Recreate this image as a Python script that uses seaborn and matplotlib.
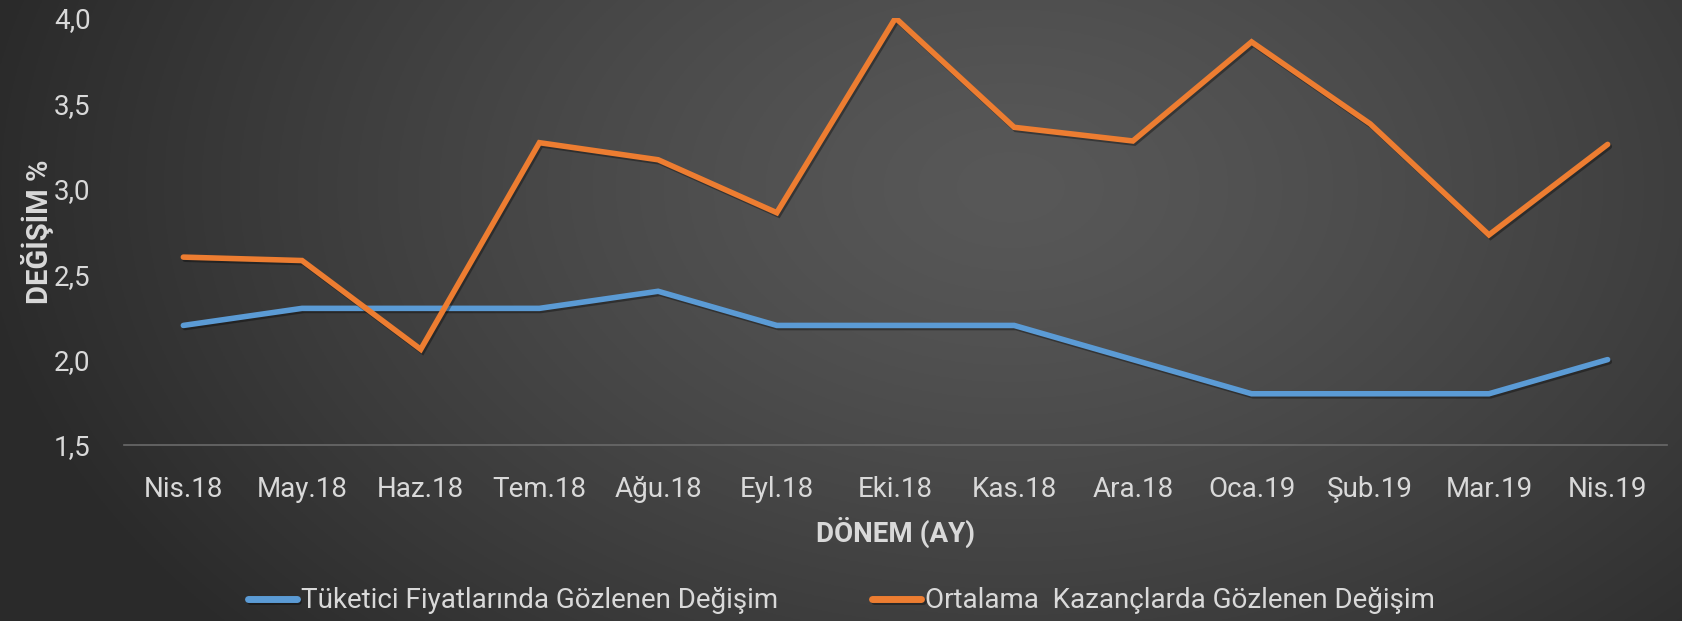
import numpy as np
import pandas as pd
import matplotlib
matplotlib.use("Agg")
import matplotlib.pyplot as plt
import matplotlib.patheffects as pe
import seaborn as sns
from matplotlib import font_manager

months = ["Nis.18", "May.18", "Haz.18", "Tem.18", "Ağu.18", "Eyl.18", "Eki.18",
          "Kas.18", "Ara.18", "Oca.19", "Şub.19", "Mar.19", "Nis.19"]
tufe = [2.2, 2.3, 2.3, 2.3, 2.4, 2.2, 2.2, 2.2, 2.0, 1.8, 1.8, 1.8, 2.0]
kazanc = [2.6, 2.58, 2.06, 3.27, 3.17, 2.86, 4.0, 3.36, 3.28, 3.86, 3.38, 2.73, 3.26]
series_names = ["Tüketici Fiyatlarında Gözlenen Değişim",
                "Ortalama  Kazançlarda Gözlenen Değişim"]
yticks = [1.5, 2.0, 2.5, 3.0, 3.5, 4.0]

sns.set_theme(style="white")
names = {f.name for f in font_manager.fontManager.ttflist}
fam = [f for f in ["Liberation Sans Narrow", "Roboto", "DejaVu Sans"] if f in names]
plt.rcParams["font.family"] = fam + ["DejaVu Sans"]

df = pd.DataFrame({
    "x": list(range(len(months))) * 2,
    "val": tufe + kazanc,
    "seri": [series_names[0]] * len(months) + [series_names[1]] * len(months),
})

fig = plt.figure(figsize=(16.83, 6.21), dpi=100)

# background radial gradient
bg = fig.add_axes([0, 0, 1, 1], zorder=-10)
H, W = 300, 800
yy, xx = np.mgrid[0:H, 0:W]
u = xx / W
v = yy / H
r = np.sqrt(((u - 0.6) / 0.62) ** 2 + ((v - 0.3) / 1.1) ** 2)
r = np.clip(r, 0, 1)
c = 0.345 - (0.345 - 0.165) * r ** 1.3
img = np.dstack([c, c, c])
bg.imshow(img, aspect="auto", extent=[0, 1, 0, 1], origin="upper")
bg.axis("off")

ax = fig.add_axes([124 / 1683, 1 - 445 / 621, (1667 - 124) / 1683, (445 - 18) / 621])
ax.set_facecolor("none")

palette = {series_names[0]: "#5B9BD5", series_names[1]: "#ED7D31"}
sns.lineplot(data=df, x="x", y="val", hue="seri", palette=palette, ax=ax,
             linewidth=4.0, legend=True, sort=False)
for ln in ax.lines:
    ln.set_solid_capstyle("round")
    ln.set_solid_joinstyle("miter")
    ln.set_path_effects([pe.SimpleLineShadow(offset=(1.2, -1.5), shadow_color="black", alpha=0.35),
                         pe.Normal()])

ax.set_xlim(-0.5, len(months) - 0.5)
ax.set_ylim(1.5, 4.0)
ax.set_xticks(range(len(months)))
ax.set_xticklabels(months)
ax.set_yticks(yticks)
ax.set_yticklabels([f"{t:.1f}".replace(".", ",") for t in yticks])
txtc = "#d9d9d9"
ax.tick_params(axis="both", colors=txtc, labelsize=20, length=0)
ax.tick_params(axis="x", pad=22)
ax.tick_params(axis="y", pad=24)
for s in ["top", "right", "left"]:
    ax.spines[s].set_visible(False)
ax.spines["bottom"].set_color("#6a6a6a")
ax.spines["bottom"].set_linewidth(1.2)
ax.set_xlabel("DÖNEM (AY)", color=txtc, fontsize=20, fontweight="bold", labelpad=10)
ax.set_ylabel("DEĞİŞİM %", color=txtc, fontsize=21, fontweight="bold", labelpad=0)
ax.grid(False)

handles, labels = ax.get_legend_handles_labels()
ax.get_legend().remove()
leg = fig.legend(handles, labels, loc="center", bbox_to_anchor=(0.5, 1 - 601 / 621),
                 ncol=2, frameon=False, fontsize=20, handlelength=1.75, handletextpad=0.15,
                 columnspacing=3.4)
for t in leg.get_texts():
    t.set_color(txtc)
for h in leg.get_lines():
    h.set_linewidth(5)
    h.set_solid_capstyle("round")

fig.savefig("out.png", dpi=100)
